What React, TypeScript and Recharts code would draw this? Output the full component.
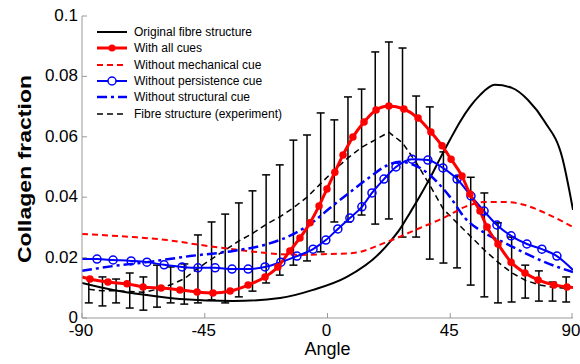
import React from "react";
import { LineChart, Line, XAxis, YAxis, ErrorBar, Legend } from "recharts";

const FONT = "'Liberation Sans', Arial, Helvetica, sans-serif";
const FRAME = "#999";
const RED = "#ff0000";
const BLUE = "#0000ff";

const xTicks = [-90, -45, 0, 45, 90];
const yTicks = [0, 0.02, 0.04, 0.06, 0.08, 0.1];

// Original fibre structure
const origAngle = [-90, -78.6, -66.2, -54.1, -34.6, -17.4, -5.3, 7.1, 19.2, 22.9, 26.6, 30.2, 33.9, 37.6, 41.2, 44.9, 48.6, 52.2, 55.9, 61.4, 67.6, 73.5, 79.7, 86, 90];
const origValue = [0.0116, 0.0093, 0.0076, 0.0063, 0.0056, 0.0066, 0.0093, 0.0136, 0.0215, 0.0252, 0.0295, 0.0348, 0.0404, 0.0464, 0.0527, 0.059, 0.065, 0.0699, 0.0738, 0.0772, 0.0762, 0.0722, 0.0649, 0.0533, 0.0358];

// With all cues (marker positions)
const allAngle = [-90, -87.1, -80.5, -73.5, -67.6, -61.0, -54.1, -47.8, -42.0, -35.7, -29.1, -22.9, -18.2, -13.8, -10.1, -6.4, -3.1, -0.2, 2.7, 5.7, 9.3, 13.4, 17.8, 22.5, 28.0, 33.2, 37.9, 42.0, 45.3, 49.3, 52.2, 55.9, 58.5, 62.5, 67.3, 72.4, 77.2, 83.0, 87.8, 90];
const allValue = [0.0136, 0.0129, 0.0119, 0.0113, 0.0103, 0.0099, 0.0093, 0.0086, 0.0083, 0.0089, 0.0109, 0.0136, 0.0169, 0.0222, 0.0265, 0.0315, 0.0371, 0.0427, 0.0483, 0.054, 0.0599, 0.0649, 0.0689, 0.0702, 0.0692, 0.0662, 0.0616, 0.057, 0.0526, 0.047, 0.0411, 0.0354, 0.0301, 0.0245, 0.0185, 0.0149, 0.0126, 0.0109, 0.0103, 0.0101];

// Without mechanical cue
const mechAngle = [-90, -71.3, -58.8, -46.7, -34.6, -22.2, -10.1, 0.9, 9.3, 21.8, 33.9, 43.1, 50.4, 57.7, 65.1, 72.4, 79.7, 90];
const mechValue = [0.0278, 0.0268, 0.0258, 0.0242, 0.0228, 0.0215, 0.0209, 0.0212, 0.0215, 0.0252, 0.0298, 0.0334, 0.0368, 0.0384, 0.0384, 0.0374, 0.0348, 0.0301];

// Without persistence cue (marker positions)
const persAngle = [-90, -84.5, -78.6, -72.0, -66.2, -59.9, -53.3, -47.5, -41.2, -35.0, -29.1, -22.9, -17.1, -11.2, -5.3, -0.6, 3.8, 8.2, 12.6, 16.3, 20.7, 25.1, 31.0, 36.8, 42.3, 47.5, 52.6, 57.4, 62.1, 67.3, 73.1, 78.6, 84.1, 90];
const persValue = [0.0195, 0.0195, 0.0192, 0.0189, 0.0185, 0.0176, 0.0169, 0.0166, 0.0166, 0.0162, 0.0162, 0.0169, 0.0185, 0.0205, 0.0228, 0.0258, 0.0295, 0.0331, 0.0368, 0.0414, 0.046, 0.05, 0.0526, 0.0523, 0.0497, 0.046, 0.0404, 0.0354, 0.0308, 0.0272, 0.0245, 0.0228, 0.0205, 0.0159];

// Without structural cue
const structAngle = [-90, -78.6, -66.2, -50.4, -34.6, -22, -12, -5, 1, 9.3, 16, 21.8, 26.6, 33.9, 44.9, 50.4, 57.7, 65.1, 72.4, 79.7, 90];
const structValue = [0.0156, 0.0172, 0.0185, 0.0205, 0.0222, 0.0245, 0.028, 0.032, 0.0365, 0.0424, 0.047, 0.0505, 0.0517, 0.0497, 0.0401, 0.0331, 0.0281, 0.0248, 0.0215, 0.0185, 0.0152];

// Fibre structure (experiment): bin centres, mean, bar top, bar bottom
const expAngle = [-87.5, -82.5, -77.5, -72.5, -67.5, -62.5, -57.5, -52.5, -47.5, -42.5, -37.5, -32.5, -27.5, -22.5, -17.5, -12.5, -7.5, -2.5, 2.5, 7.5, 12.5, 17.5, 22.5, 27.5, 32.5, 37.5, 42.5, 47.5, 52.5, 57.5, 62.5, 67.5, 72.5, 77.5, 82.5, 87.5];
const expMean = [0.0095, 0.009, 0.009, 0.0088, 0.0085, 0.0095, 0.011, 0.013, 0.0165, 0.0195, 0.0225, 0.0255, 0.028, 0.031, 0.0335, 0.0365, 0.04, 0.0445, 0.049, 0.053, 0.0565, 0.059, 0.0615, 0.058, 0.0515, 0.044, 0.036, 0.0315, 0.027, 0.0225, 0.0185, 0.015, 0.0125, 0.011, 0.0102, 0.0098];
const expHigh = [0.0132, 0.0136, 0.0129, 0.0149, 0.0136, 0.0175, 0.0169, 0.0179, 0.0275, 0.0318, 0.0344, 0.0381, 0.0421, 0.0474, 0.0507, 0.0589, 0.0606, 0.0679, 0.0656, 0.0732, 0.0758, 0.0881, 0.0914, 0.0894, 0.0735, 0.0699, 0.055, 0.047, 0.0466, 0.0414, 0.0315, 0.0268, 0.0175, 0.0156, 0.0119, 0.0136];
const expLow = [0.005, 0.004, 0.005, 0.0033, 0.0026, 0.0036, 0.005, 0.0046, 0.005, 0.006, 0.005, 0.007, 0.0089, 0.0116, 0.0142, 0.0175, 0.0189, 0.0219, 0.0318, 0.0318, 0.0341, 0.0311, 0.0328, 0.0268, 0.0268, 0.0195, 0.0182, 0.0166, 0.0109, 0.007, 0.005, 0.0053, 0.0066, 0.0056, 0.0056, 0.0053];

const pts = (a: number[], v: number[]) => a.map((x, i) => ({ a: x, v: v[i] }));
const origData = pts(origAngle, origValue);
const allData = pts(allAngle, allValue);
const mechData = pts(mechAngle, mechValue);
const persData = pts(persAngle, persValue);
const structData = pts(structAngle, structValue);
const expData = expAngle.map((x, i) => ({
  a: x,
  v: expMean[i],
  err: [expMean[i] - expLow[i], expHigh[i] - expMean[i]],
}));

const LEGEND = [
  { name: "Original fibre structure", color: "#000", width: 2, dash: undefined, marker: "" },
  { name: "With all cues", color: RED, width: 3, dash: undefined, marker: "dot" },
  { name: "Without mechanical cue", color: RED, width: 2, dash: "6 4", marker: "" },
  { name: "Without persistence cue", color: BLUE, width: 2, dash: undefined, marker: "circle" },
  { name: "Without structural cue", color: BLUE, width: 2.5, dash: "10 4 3 4", marker: "" },
  { name: "Fibre structure (experiment)", color: "#000", width: 1.5, dash: "6 4", marker: "" },
];

function LegendBox() {
  return (
    <div style={{ fontFamily: FONT, fontSize: 12, color: "#000" }}>
      {LEGEND.map((it) => (
        <div key={it.name} style={{ display: "flex", alignItems: "center", height: 16.3 }}>
          <svg width={38} height={12} style={{ display: "block" }}>
            <line x1={1} x2={31} y1={6} y2={6} stroke={it.color} strokeWidth={it.width} strokeDasharray={it.dash} />
            {it.marker === "dot" && <circle cx={16} cy={6} r={3.5} fill={it.color} />}
            {it.marker === "circle" && <circle cx={16} cy={6} r={4} fill="#fff" stroke={it.color} strokeWidth={1.5} />}
          </svg>
          <span style={{ whiteSpace: "nowrap" }}>{it.name}</span>
        </div>
      ))}
    </div>
  );
}

function BottomTick({ x, y, payload }: any) {
  return (
    <g>
      <line x1={x} y1={y} x2={x} y2={y - 5} stroke={FRAME} />
      <text x={x - 1} y={y + 18} textAnchor="middle" fontSize={17} fontFamily={FONT} fill="#000">
        {payload.value}
      </text>
    </g>
  );
}

function TopTick({ x, y }: any) {
  return <line x1={x} y1={y} x2={x} y2={y + 5} stroke={FRAME} />;
}

function LeftTick({ x, y, payload }: any) {
  return (
    <g>
      <line x1={x} y1={y} x2={x + 5} y2={y} stroke={FRAME} />
      <text x={x - 4} y={y + 5} textAnchor="end" fontSize={17} fontFamily={FONT} fill="#000">
        {String(payload.value)}
      </text>
    </g>
  );
}

function RightTick({ x, y }: any) {
  return <line x1={x} y1={y} x2={x - 5} y2={y} stroke={FRAME} />;
}

function YLabel({ viewBox }: any) {
  const cy = viewBox.y + viewBox.height / 2 + 2;
  return (
    <text
      transform={`translate(25,${cy}) rotate(-90)`}
      textAnchor="middle"
      dominantBaseline="central"
      fontSize={18}
      fontWeight="bold"
      fontFamily={FONT}
      textLength={188}
      lengthAdjust="spacingAndGlyphs"
      fill="#000"
    >
      Collagen fraction
    </text>
  );
}

function XLabel({ viewBox }: any) {
  return (
    <text x={viewBox.x + viewBox.width / 2} y={viewBox.y + 37} textAnchor="middle" fontSize={18} fontFamily={FONT} fill="#000">
      Angle
    </text>
  );
}

const skipEnds = (color: string, r: number, fill: string) => (p: any) => {
  if (p.index === 0 || p.payload?.a === 90) return <g key={p.index} />;
  return <circle key={p.index} cx={p.cx} cy={p.cy} r={r} fill={fill} stroke={color} strokeWidth={1.5} />;
};

export default function App() {
  return (
    <div style={{ position: "absolute", left: 0, top: 0, background: "#fff" }}>
      <LineChart width={580} height={364} margin={{ top: 16, right: 7, bottom: 0, left: 0 }}>
        <XAxis
          dataKey="a"
          type="number"
          domain={[-90, 90]}
          ticks={xTicks}
          allowDataOverflow
          height={46}
          stroke={FRAME}
          tickLine={false}
          tickSize={0}
          tickMargin={0}
          tick={<BottomTick />}
          label={<XLabel />}
        />
        <XAxis
          xAxisId="top"
          orientation="top"
          dataKey="a"
          type="number"
          domain={[-90, 90]}
          ticks={xTicks}
          height={0}
          stroke={FRAME}
          tickLine={false}
          tickSize={0}
          tickMargin={0}
          tick={<TopTick />}
        />
        <YAxis
          type="number"
          domain={[0, 0.1]}
          ticks={yTicks}
          allowDataOverflow
          width={82}
          stroke={FRAME}
          tickLine={false}
          tickSize={0}
          tickMargin={0}
          tick={<LeftTick />}
          label={<YLabel />}
        />
        <YAxis
          yAxisId="right"
          orientation="right"
          type="number"
          domain={[0, 0.1]}
          ticks={yTicks}
          width={0}
          stroke={FRAME}
          tickLine={false}
          tickSize={0}
          tickMargin={0}
          tick={<RightTick />}
        />
        <Legend
          layout="vertical"
          align="center"
          verticalAlign="middle"
          wrapperStyle={{ left: 96, top: 24, width: 220 }}
          content={<LegendBox />}
        />
        <Line
          data={expData}
          dataKey="v"
          stroke="#000"
          strokeWidth={1.5}
          strokeDasharray="6 4"
          dot={false}
          type="linear"
          isAnimationActive={false}
        >
          <ErrorBar dataKey="err" direction="y" width={4} stroke="#000" strokeWidth={1.5} isAnimationActive={false} />
        </Line>
        <Line data={origData} dataKey="v" stroke="#000" strokeWidth={2} dot={false} type="monotone" isAnimationActive={false} />
        <Line data={mechData} dataKey="v" stroke={RED} strokeWidth={2} strokeDasharray="6 4" dot={false} type="monotone" isAnimationActive={false} />
        <Line data={structData} dataKey="v" stroke={BLUE} strokeWidth={2.5} strokeDasharray="10 4 3 4" dot={false} type="monotone" isAnimationActive={false} />
        <Line data={persData} dataKey="v" stroke={BLUE} strokeWidth={2} dot={skipEnds(BLUE, 4, "none")} type="monotone" isAnimationActive={false} />
        <Line data={allData} dataKey="v" stroke={RED} strokeWidth={3} dot={skipEnds(RED, 3, RED)} type="monotone" isAnimationActive={false} />
      </LineChart>
    </div>
  );
}
